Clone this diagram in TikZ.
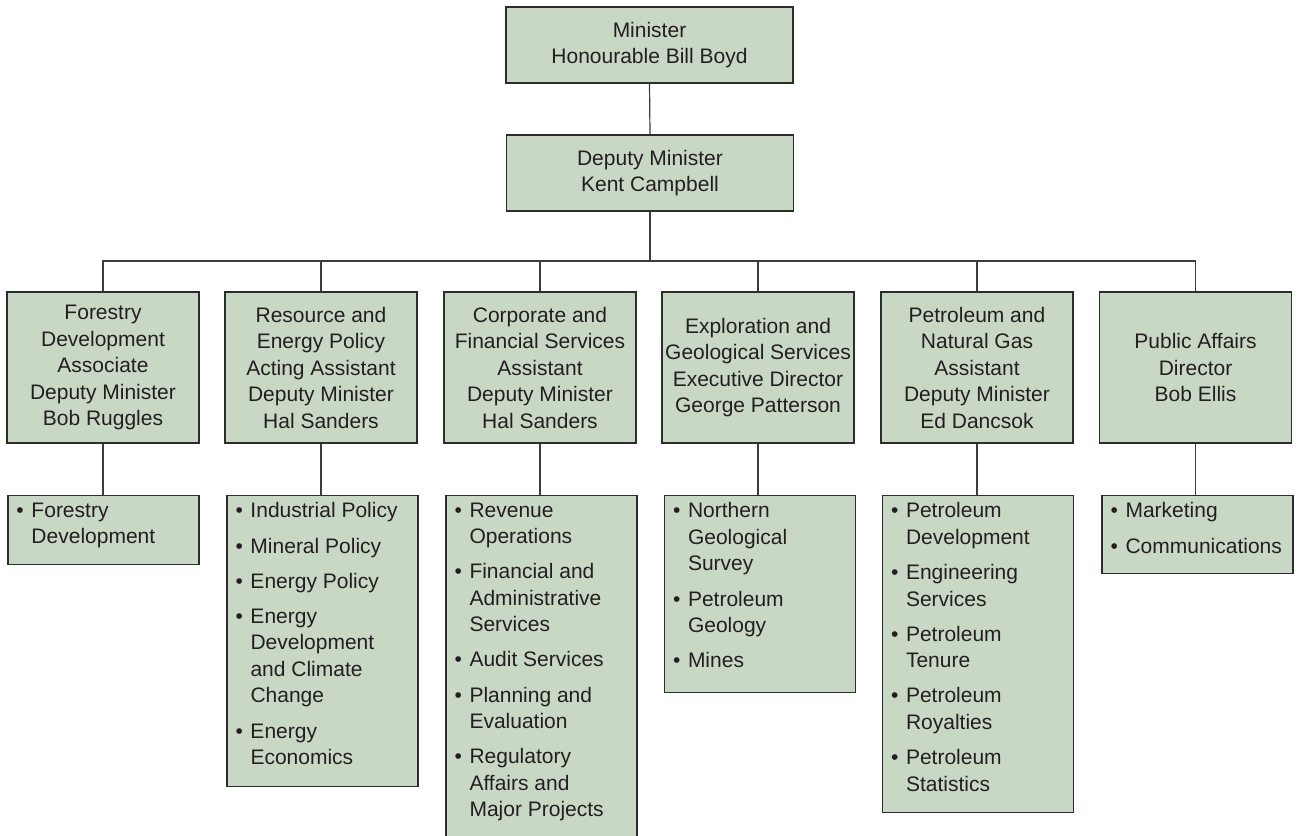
\documentclass[tikz,border=0pt]{standalone}
\usepackage{fontspec}
\setmainfont{Liberation Sans}
\definecolor{boxfill}{RGB}{201,216,197}
\definecolor{edgecol}{RGB}{45,45,45}
\definecolor{linecol}{RGB}{60,60,60}
\definecolor{ink}{RGB}{35,31,32}
\newcommand{\bitem}[1]{\par\noindent\hangindent=15pt\hangafter=1\makebox[15pt][l]{\textbullet}#1\par\vspace{8.7pt}}
\newcommand{\blist}[2]{\parbox[c][#1pt][t]{182pt}{\raggedright\leftskip=4pt\setlength{\parskip}{0pt}\vspace*{7pt}#2}}
\tikzset{
  orgbox/.style={draw=edgecol, line width=1.2pt, fill=boxfill, text=ink, inner sep=1pt, align=center,
    font=\fontsize{21}{26.5}\selectfont},
  topbox/.style={orgbox, minimum width=287, minimum height=76},
  midbox/.style={orgbox, minimum width=192, minimum height=151},
  listbox/.style={orgbox, minimum width=191, inner sep=0pt, anchor=north},
  conn/.style={draw=linecol, line width=1.2pt}
}
\begin{document}
\begin{tikzpicture}[x=1pt,y=-1pt]
\useasboundingbox (0,0) rectangle (1300,835);
% top levels
\node[topbox] (min) at (649.5,45) {Minister\\Honourable Bill Boyd};
\node[topbox] (dep) at (650,173) {Deputy Minister\\Kent Campbell};
% level 3
\node[midbox] (b1) at (103,367.5) {Forestry\\Development\\Associate\\Deputy Minister\\Bob Ruggles};
\node[midbox] (b2) at (321,367.5) {Resource and\\Energy Policy\\Acting Assistant\\Deputy Minister\\Hal Sanders};
\node[midbox] (b3) at (540,367.5) {Corporate and\\Financial Services\\Assistant\\Deputy Minister\\Hal Sanders};
\node[midbox] (b4) at (758,367.5) {Exploration and\\Geological Services\\Executive Director\\George Patterson};
\node[midbox] (b5) at (977,367.5) {Petroleum and\\Natural Gas\\Assistant\\Deputy Minister\\Ed Dancsok};
\node[midbox] (b6) at (1195.5,367.5) {Public Affairs\\Director\\Bob Ellis};
% level 4
\node[listbox, minimum height=69] (l1) at (103.5,495) {\blist{69}{\bitem{Forestry\newline Development}}};
\node[listbox, minimum height=291] (l2) at (322.5,495) {\blist{291}{\bitem{Industrial Policy}\bitem{Mineral Policy}\bitem{Energy Policy}\bitem{Energy\newline Development\newline and Climate\newline Change}\bitem{Energy\newline Economics}}};
\node[listbox, minimum height=360] (l3) at (541.5,495) {\blist{360}{\bitem{Revenue\newline Operations}\bitem{Financial and\newline Administrative\newline Services}\bitem{Audit Services}\bitem{Planning and\newline Evaluation}\bitem{Regulatory\newline Affairs and\newline Major Projects}}};
\node[listbox, minimum height=197] (l4) at (760,495) {\blist{197}{\bitem{Northern\newline Geological\newline Survey}\bitem{Petroleum\newline Geology}\bitem{Mines}}};
\node[listbox, minimum height=317] (l5) at (978,495) {\blist{317}{\bitem{Petroleum\newline Development}\bitem{Engineering\newline Services}\bitem{Petroleum\newline Tenure}\bitem{Petroleum\newline Royalties}\bitem{Petroleum\newline Statistics}}};
\node[listbox, minimum height=78] (l6) at (1197.5,495) {\blist{78}{\bitem{Marketing}\bitem{Communications}}};
% connectors
\coordinate (j) at (650,261);
\draw[conn] (min.south) -- (dep.north);
\draw[conn] (dep.south) -- (j);
\draw[conn] (b1.north) -- (b1.north |- j) -- (b6.north |- j) -- (b6.north);
\foreach \b in {b2,b3,b4,b5} { \draw[conn] (\b.north) -- (\b.north |- j); }
\foreach \b/\l in {b1/l1,b2/l2,b3/l3,b4/l4,b5/l5,b6/l6} { \draw[conn] (\b.south) -- (\b.south |- \l.north); }
\end{tikzpicture}
\end{document}
